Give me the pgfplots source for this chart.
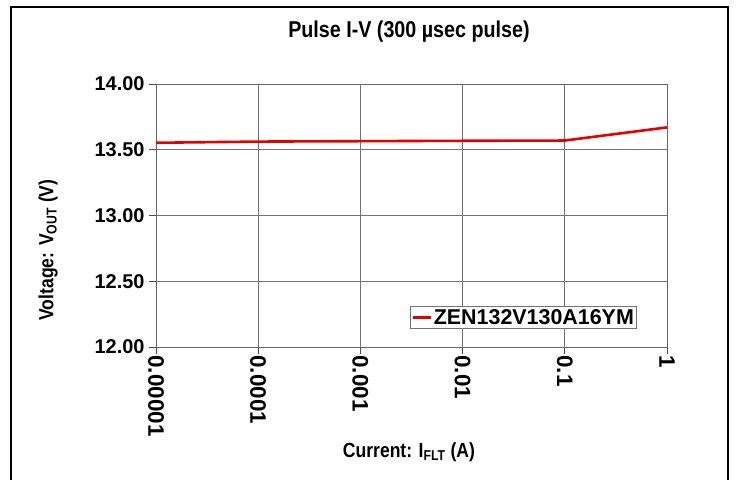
\documentclass[border=0pt]{standalone}
\usepackage{fontspec}
\setmainfont{Liberation Sans}
\newfontfamily\narrowfont{Liberation Sans}[FakeStretch=0.86]
\usepackage{pgfplots}
\pgfplotsset{compat=1.18}
\begin{document}
\begin{tikzpicture}[x=1bp,y=1bp]
\useasboundingbox (0,0) rectangle (737,480);
\fill[white] (0,0) rectangle (737,480);
\draw[line width=2.6bp,black] (11,-2) -- (11,473) -- (728,473) -- (728,-2);
\begin{axis}[
  at={(156bp,133bp)}, anchor=south west,
  width=511bp, height=263bp, scale only axis,
  xmode=log, xmin=1e-5, xmax=1,
  ymin=12, ymax=14,
  xtick={1e-5,1e-4,1e-3,1e-2,1e-1,1},
  xticklabels={0.00001,0.0001,0.001,0.01,0.1,1},
  ytick={12,12.5,13,13.5,14},
  yticklabel style={/pgf/number format/fixed, /pgf/number format/fixed zerofill, /pgf/number format/precision=2, xshift=-1bp, font=\fontsize{20}{21}\selectfont\bfseries},
  /pgf/number format/assume math mode=true,
  xminorticks=false, yminorticks=false,
  xticklabel style={rotate=-90, anchor=west, xshift=-2bp, font=\fontsize{22.5}{23}\selectfont\bfseries},
  grid=major,
  major grid style={draw=gray!90!black, line width=0.8bp},
  axis line style={draw=gray!80!black, line width=0.9bp},
  tick style={draw=black!70, line width=0.9bp},
  tick align=outside,
  major tick length=7bp,
  xtick pos=bottom, ytick pos=left,
  title={\narrowfont\fontsize{23}{24}\selectfont\bfseries Pulse I-V (300 \textmu sec pulse)},
  title style={at={(0.495,1.175)}, anchor=center},
  xlabel={\narrowfont\fontsize{20.5}{21}\selectfont\bfseries Current: I\textsubscript{FLT} (A)},
  xlabel style={at={(0.495,-0.40)}, anchor=center},
  ylabel={\narrowfont\fontsize{20.5}{21}\selectfont\bfseries Voltage: V\textsubscript{OUT} (V)},
  ylabel style={at={(-0.211,0.369)}, anchor=center},
  legend style={at={(0.497,0.068)}, anchor=south west, draw=gray!90!black, line width=0.8bp,
    fill=white, font=\fontsize{21.5}{22}\selectfont\bfseries, inner sep=1bp,
    legend cell align=left},
  legend image code/.code={\draw[#1, line width=2.5bp] (0bp,0bp) -- (18bp,0bp);},
]
\addplot[red!90!black, line width=2.6bp] coordinates {
  (1e-5,13.553) (1e-4,13.562) (1e-3,13.565) (1e-2,13.568) (1e-1,13.570) (1,13.670)
};
\addlegendentry{ZEN132V130A16YM}
\end{axis}
\end{tikzpicture}
\end{document}
